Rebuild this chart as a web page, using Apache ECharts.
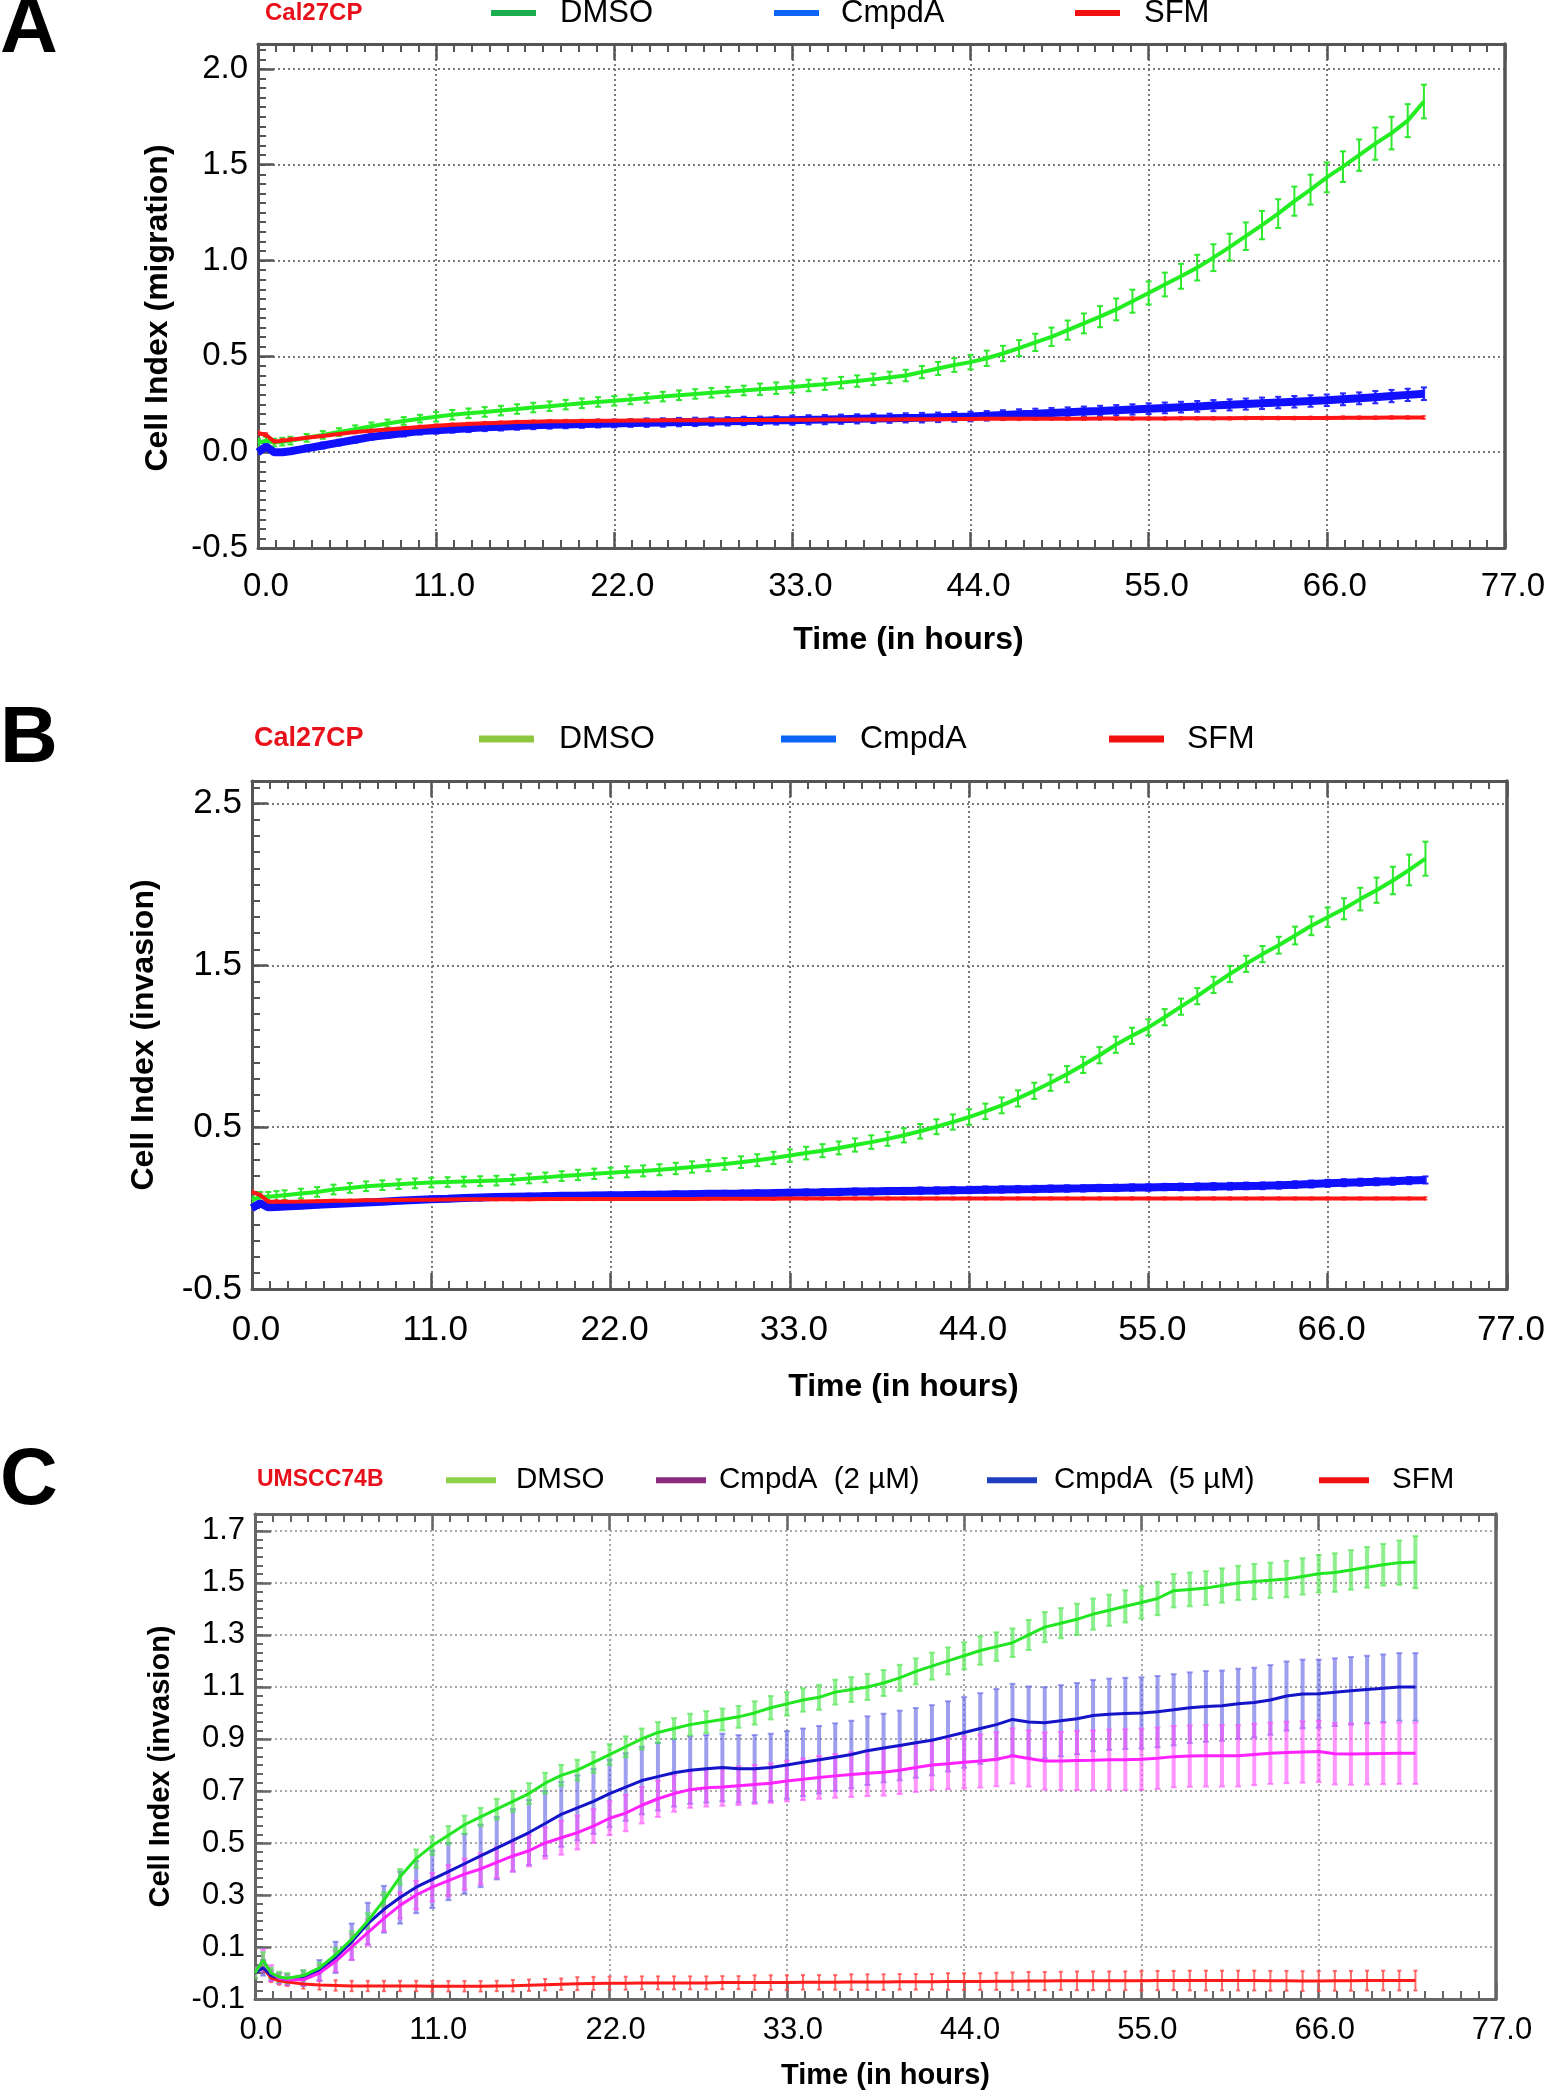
<!DOCTYPE html>
<html><head><meta charset="utf-8">
<script src="https://cdn.jsdelivr.net/npm/echarts@6/dist/echarts.min.js"></script>
<style>html,body{margin:0;padding:0;background:#fff}#chart{width:1548px;height:2100px}</style>
</head><body><div id="chart"></div>
<script>
// ---------------- DATA ----------------
const hours = [0,0.5,1,1.5,2,
 3,4,5,6,7,8,9,10,11,12,
 13,14,15,16,17,18,19,20,21,22,
 23,24,25,26,27,28,29,30,31,32,
 33,34,35,36,37,38,39,40,41,42,
 43,44,45,46,47,48,49,50,51,52,
 53,54,55,56,57,58,59,60,61,62,
 63,64,65,66,67,68,69,70,71,72];
const xTicks = [0,11,22,33,44,55,66,77];

// Panel A: Cal27CP migration
const aDmso = [0.05,0.06,0.05,0.055,0.06,
 0.075,0.09,0.105,0.12,0.135,0.15,0.163,0.175,0.185,0.195,
 0.203,0.21,0.217,0.225,0.233,0.24,0.248,0.255,0.262,0.268,
 0.275,0.283,0.29,0.297,0.304,0.31,0.316,0.322,0.328,0.334,
 0.34,0.348,0.355,0.363,0.371,0.38,0.39,0.40,0.418,0.437,
 0.455,0.47,0.49,0.515,0.543,0.573,0.602,0.637,0.672,0.707,
 0.745,0.788,0.831,0.875,0.918,0.963,1.015,1.07,1.127,1.185,
 1.245,1.31,1.37,1.434,1.49,1.55,1.61,1.665,1.73,1.83];
const aDmsoErr = [0.02,0.02,0.02,0.02,0.02,
 0.02,0.02,0.02,0.02,0.02,0.02,0.02,0.02,0.025,0.025,
 0.025,0.025,0.025,0.025,0.025,0.025,0.025,0.025,0.025,0.025,
 0.025,0.025,0.025,0.025,0.025,0.025,0.025,0.025,0.03,0.03,
 0.03,0.03,0.03,0.03,0.03,0.03,0.03,0.03,0.032,0.034,
 0.036,0.038,0.04,0.04,0.042,0.045,0.048,0.05,0.052,0.055,
 0.057,0.06,0.06,0.062,0.065,0.067,0.07,0.07,0.072,0.074,
 0.075,0.076,0.078,0.078,0.08,0.082,0.084,0.085,0.086,0.088];
const aCmpd = [0.00,0.03,0.00,0.00,0.005,
 0.02,0.035,0.05,0.065,0.08,0.09,0.10,0.11,0.115,0.12,
 0.125,0.13,0.133,0.137,0.14,0.143,0.145,0.147,0.149,0.15,
 0.152,0.154,0.155,0.157,0.158,0.16,0.161,0.163,0.164,0.166,
 0.167,0.169,0.17,0.172,0.174,0.176,0.177,0.179,0.18,0.182,
 0.184,0.186,0.19,0.194,0.198,0.201,0.205,0.208,0.212,0.215,
 0.219,0.223,0.227,0.231,0.235,0.239,0.243,0.247,0.251,0.255,
 0.259,0.263,0.267,0.271,0.276,0.281,0.287,0.293,0.299,0.305];
const aCmpdErr = [0.01,0.01,0.01,0.012,0.012,
 0.015,0.015,0.015,0.015,0.015,0.015,0.018,0.018,0.018,0.018,
 0.02,0.02,0.02,0.02,0.02,0.02,0.02,0.02,0.02,0.02,
 0.02,0.022,0.022,0.022,0.022,0.022,0.022,0.022,0.022,0.022,
 0.024,0.024,0.024,0.024,0.024,0.024,0.024,0.024,0.025,0.025,
 0.025,0.025,0.025,0.025,0.026,0.026,0.026,0.026,0.026,0.027,
 0.027,0.027,0.028,0.028,0.028,0.028,0.029,0.029,0.029,0.03,
 0.03,0.03,0.03,0.03,0.031,0.031,0.032,0.032,0.032,0.033];
const aSfm = [0.10,0.09,0.055,0.06,0.065,
 0.075,0.085,0.095,0.105,0.112,0.118,0.125,0.132,0.138,0.143,
 0.147,0.151,0.154,0.157,0.159,0.161,0.162,0.163,0.164,0.164,
 0.165,0.165,0.166,0.166,0.166,0.167,0.167,0.168,0.168,0.168,
 0.169,0.169,0.17,0.17,0.17,0.171,0.171,0.172,0.172,0.172,
 0.173,0.173,0.174,0.174,0.174,0.175,0.175,0.175,0.175,0.176,
 0.176,0.176,0.176,0.176,0.177,0.177,0.177,0.177,0.178,0.178,
 0.178,0.178,0.179,0.179,0.18,0.18,0.18,0.181,0.181,0.181];
const aSfmErr = [0.01,0.01,0.01,0.01,0.01,
 0.008,0.008,0.008,0.008,0.008,0.008,0.008,0.008,0.008,0.008,
 0.008,0.008,0.008,0.008,0.008,0.008,0.008,0.008,0.008,0.008,
 0.008,0.008,0.008,0.008,0.008,0.008,0.008,0.008,0.008,0.008,
 0.008,0.008,0.008,0.008,0.008,0.008,0.008,0.008,0.008,0.008,
 0.008,0.008,0.008,0.008,0.008,0.008,0.008,0.008,0.008,0.008,
 0.008,0.008,0.008,0.008,0.008,0.008,0.008,0.008,0.008,0.008,
 0.008,0.008,0.008,0.008,0.008,0.008,0.008,0.008,0.008,0.008];

// Panel B: Cal27CP invasion
const bDmso = [0.05,0.07,0.07,0.075,0.08,
 0.09,0.10,0.115,0.125,0.135,0.142,0.148,0.153,0.158,0.161,
 0.164,0.167,0.17,0.176,0.183,0.19,0.198,0.205,0.212,0.218,
 0.224,0.23,0.237,0.245,0.254,0.263,0.273,0.284,0.296,0.31,
 0.325,0.34,0.355,0.372,0.39,0.408,0.428,0.45,0.475,0.503,
 0.532,0.563,0.598,0.635,0.678,0.725,0.775,0.828,0.885,0.945,
 1.01,1.065,1.117,1.18,1.245,1.31,1.38,1.447,1.51,1.57,
 1.625,1.685,1.745,1.798,1.85,1.91,1.965,2.025,2.09,2.16];
const bDmsoErr = [0.02,0.03,0.03,0.03,0.03,
 0.03,0.03,0.03,0.03,0.03,0.03,0.03,0.03,0.03,0.03,
 0.03,0.03,0.03,0.03,0.03,0.03,0.03,0.032,0.032,0.032,
 0.034,0.034,0.034,0.035,0.035,0.035,0.036,0.036,0.037,0.038,
 0.038,0.039,0.04,0.04,0.041,0.042,0.043,0.044,0.045,0.046,
 0.047,0.048,0.048,0.049,0.05,0.05,0.05,0.05,0.05,0.05,
 0.05,0.05,0.05,0.05,0.05,0.05,0.05,0.05,0.05,0.05,
 0.052,0.055,0.058,0.06,0.065,0.07,0.078,0.085,0.095,0.105];
const bCmpd = [0.00,0.03,0.005,0.007,0.01,
 0.015,0.02,0.025,0.03,0.035,0.04,0.045,0.05,0.055,0.058,
 0.062,0.065,0.068,0.07,0.072,0.074,0.076,0.077,0.078,0.079,
 0.08,0.082,0.083,0.085,0.086,0.088,0.089,0.09,0.092,0.093,
 0.095,0.097,0.098,0.10,0.102,0.103,0.105,0.106,0.108,0.109,
 0.111,0.112,0.114,0.115,0.117,0.118,0.12,0.121,0.122,0.124,
 0.125,0.127,0.128,0.13,0.131,0.132,0.134,0.135,0.137,0.138,
 0.141,0.145,0.149,0.153,0.157,0.16,0.163,0.166,0.17,0.174];
const bCmpdErr = [0.01,0.01,0.01,0.012,0.012,
 0.015,0.015,0.015,0.015,0.015,0.015,0.015,0.015,0.016,0.016,
 0.016,0.016,0.016,0.016,0.017,0.017,0.017,0.017,0.017,0.017,
 0.018,0.018,0.018,0.018,0.018,0.018,0.018,0.018,0.018,0.018,
 0.019,0.019,0.019,0.019,0.019,0.019,0.019,0.019,0.02,0.02,
 0.02,0.02,0.02,0.02,0.02,0.02,0.02,0.02,0.02,0.02,
 0.02,0.02,0.02,0.02,0.021,0.021,0.021,0.021,0.021,0.021,
 0.021,0.021,0.022,0.022,0.022,0.022,0.022,0.022,0.022,0.022];
const bSfm = [0.10,0.08,0.04,0.04,0.04,
 0.041,0.043,0.045,0.046,0.048,0.049,0.05,0.051,0.052,0.053,
 0.054,0.054,0.055,0.055,0.055,0.056,0.056,0.056,0.056,0.056,
 0.057,0.057,0.057,0.057,0.057,0.058,0.058,0.058,0.058,0.058,
 0.059,0.059,0.059,0.059,0.06,0.06,0.06,0.06,0.06,0.06,
 0.06,0.06,0.06,0.06,0.06,0.06,0.06,0.06,0.06,0.06,
 0.06,0.06,0.06,0.06,0.06,0.06,0.06,0.06,0.06,0.06,
 0.06,0.06,0.06,0.06,0.06,0.06,0.06,0.06,0.06,0.06];
const bSfmErr = [0.01,0.01,0.01,0.01,0.01,
 0.008,0.008,0.008,0.008,0.008,0.008,0.008,0.008,0.008,0.008,
 0.008,0.008,0.008,0.008,0.008,0.008,0.008,0.008,0.008,0.008,
 0.008,0.008,0.008,0.008,0.008,0.008,0.008,0.008,0.008,0.008,
 0.008,0.008,0.008,0.008,0.008,0.008,0.008,0.008,0.008,0.008,
 0.008,0.008,0.008,0.008,0.008,0.008,0.008,0.008,0.008,0.008,
 0.008,0.008,0.008,0.008,0.008,0.008,0.008,0.008,0.008,0.008,
 0.008,0.008,0.008,0.008,0.008,0.008,0.008,0.008,0.008,0.008];

// Panel C: UMSCC74B invasion
const cDmso = [0.00,0.05,0.00,-0.015,-0.02,
 -0.01,0.02,0.07,0.13,0.20,0.28,0.37,0.44,0.49,0.53,
 0.57,0.60,0.63,0.66,0.69,0.73,0.76,0.78,0.81,0.84,
 0.87,0.90,0.925,0.94,0.955,0.965,0.975,0.985,1.00,1.02,
 1.035,1.05,1.06,1.08,1.09,1.10,1.115,1.135,1.16,1.18,
 1.20,1.22,1.24,1.255,1.27,1.30,1.33,1.345,1.36,1.38,
 1.395,1.41,1.425,1.44,1.47,1.475,1.48,1.49,1.50,1.505,
 1.51,1.515,1.525,1.535,1.54,1.55,1.56,1.57,1.578,1.58];
const cDmsoErr = [0.02,0.03,0.02,0.02,0.02,
 0.02,0.02,0.025,0.03,0.03,0.03,0.03,0.035,0.035,0.035,
 0.035,0.035,0.04,0.04,0.04,0.04,0.04,0.04,0.04,0.04,
 0.04,0.04,0.04,0.04,0.042,0.042,0.042,0.042,0.045,0.045,
 0.045,0.045,0.048,0.048,0.048,0.05,0.05,0.05,0.05,0.052,
 0.052,0.052,0.055,0.055,0.055,0.058,0.058,0.058,0.06,0.06,
 0.06,0.062,0.062,0.064,0.064,0.065,0.065,0.066,0.066,0.068,
 0.068,0.07,0.07,0.072,0.074,0.076,0.078,0.08,0.085,0.1];
const cCmpd2 = [0.00,0.05,0.00,-0.02,-0.026,
 -0.026,0.00,0.045,0.10,0.155,0.21,0.26,0.30,0.33,0.355,
 0.38,0.40,0.425,0.45,0.47,0.50,0.52,0.54,0.565,0.595,
 0.615,0.645,0.67,0.69,0.705,0.712,0.715,0.72,0.725,0.73,
 0.738,0.745,0.752,0.758,0.763,0.768,0.772,0.78,0.79,0.80,
 0.805,0.81,0.815,0.822,0.835,0.825,0.815,0.815,0.817,0.818,
 0.82,0.82,0.822,0.826,0.832,0.834,0.835,0.835,0.835,0.84,
 0.845,0.848,0.85,0.852,0.843,0.842,0.843,0.844,0.845,0.845];
const cCmpd2Err = [0.02,0.04,0.03,0.02,0.02,
 0.02,0.03,0.04,0.05,0.05,0.05,0.05,0.055,0.055,0.06,
 0.06,0.06,0.06,0.06,0.06,0.06,0.065,0.065,0.065,0.065,
 0.07,0.07,0.07,0.07,0.07,0.072,0.072,0.074,0.075,0.076,
 0.078,0.08,0.082,0.084,0.086,0.088,0.09,0.092,0.094,0.096,
 0.098,0.1,0.102,0.104,0.106,0.108,0.11,0.112,0.114,0.115,
 0.116,0.117,0.118,0.118,0.118,0.118,0.118,0.118,0.118,0.118,
 0.118,0.118,0.118,0.118,0.118,0.118,0.118,0.118,0.118,0.118];
const cCmpd5 = [0.00,0.02,-0.01,-0.02,-0.026,
 -0.02,0.01,0.06,0.12,0.19,0.245,0.29,0.33,0.36,0.39,
 0.42,0.45,0.48,0.51,0.54,0.575,0.61,0.635,0.66,0.69,
 0.715,0.74,0.755,0.77,0.78,0.785,0.79,0.785,0.785,0.79,
 0.80,0.81,0.82,0.83,0.84,0.855,0.865,0.875,0.885,0.895,
 0.91,0.925,0.94,0.955,0.975,0.965,0.962,0.97,0.978,0.99,
 0.995,0.998,1.00,1.005,1.012,1.02,1.025,1.028,1.035,1.04,
 1.05,1.065,1.073,1.074,1.08,1.085,1.09,1.095,1.10,1.10];
const cCmpd5Err = [0.02,0.03,0.02,0.02,0.02,
 0.03,0.04,0.06,0.07,0.08,0.09,0.1,0.1,0.11,0.11,
 0.115,0.12,0.12,0.12,0.125,0.125,0.125,0.125,0.125,0.13,
 0.13,0.13,0.13,0.13,0.13,0.13,0.13,0.13,0.13,0.13,
 0.13,0.13,0.13,0.13,0.13,0.132,0.132,0.134,0.134,0.135,
 0.135,0.136,0.136,0.137,0.137,0.137,0.137,0.137,0.137,0.137,
 0.137,0.137,0.137,0.137,0.137,0.136,0.136,0.135,0.135,0.134,
 0.134,0.133,0.132,0.131,0.13,0.13,0.13,0.13,0.13,0.13];
const cSfm = [0.00,0.02,-0.02,-0.03,-0.035,
 -0.042,-0.046,-0.048,-0.05,-0.05,-0.05,-0.05,-0.05,-0.051,-0.051,
 -0.051,-0.051,-0.05,-0.049,-0.047,-0.045,-0.043,-0.041,-0.04,-0.039,
 -0.039,-0.038,-0.038,-0.038,-0.038,-0.038,-0.037,-0.037,-0.037,-0.037,
 -0.037,-0.036,-0.036,-0.036,-0.035,-0.035,-0.035,-0.034,-0.034,-0.034,
 -0.033,-0.033,-0.033,-0.032,-0.032,-0.031,-0.031,-0.03,-0.03,-0.03,
 -0.03,-0.03,-0.03,-0.029,-0.029,-0.029,-0.029,-0.029,-0.029,-0.029,
 -0.03,-0.03,-0.031,-0.031,-0.03,-0.03,-0.029,-0.029,-0.029,-0.029];
const cSfmErr = [0.01,0.02,0.015,0.015,0.015,
 0.018,0.018,0.02,0.02,0.02,0.02,0.02,0.02,0.02,0.02,
 0.02,0.02,0.02,0.022,0.022,0.022,0.022,0.025,0.025,0.025,
 0.025,0.025,0.025,0.025,0.025,0.025,0.025,0.025,0.028,0.028,
 0.028,0.028,0.028,0.028,0.03,0.03,0.03,0.03,0.03,0.03,
 0.032,0.032,0.032,0.033,0.034,0.035,0.035,0.035,0.036,0.036,
 0.036,0.036,0.037,0.037,0.037,0.038,0.038,0.038,0.038,0.038,
 0.038,0.038,0.038,0.038,0.038,0.038,0.038,0.038,0.038,0.038];

const cellLines = ['Cal27CP','Cal27CP','UMSCC74B'];
const panelLetters = ['A','B','C'];
const yTitles = ['Cell Index (migration)','Cell Index (invasion)','Cell Index (invasion)'];
const xTitle = 'Time (in hours)';

// ---------------- STYLE / LAYOUT ----------------
const FONT = 'Arial, "Liberation Sans", Helvetica, sans-serif';
const panels = [
  { grid:{left:258, top:44, width:1253, height:504}, ymin:-0.5, ymax:2.13, yint:0.5, yminor:0.05,
    tickFont:33, titleFont:32, xNameGap:76, xNameShift:54, yNameGap:84, yNameShift:24, labelMargin:22, xShift:16, yMargin:10,
    gridColor:'#7a7a7a', frame:'#555', legendY:13, legendFont:31, iconW:45, iconH:6,
    letterY:30, cellX:265, cellY:13, cellFont:24,
    series:[
      {name:'DMSO', v:aDmso, e:aDmsoErr, color:'#22ee22', bar:'#2ee82e', lw:4, blw:2, cap:3, legendColor:'#1aae4c', lx:491, gap:24},
      {name:'CmpdA', v:aCmpd, e:aCmpdErr, color:'#1010ff', bar:'#2a2aff', lw:8, blw:2.5, cap:3, legendColor:'#0a64f5', lx:774, gap:22},
      {name:'SFM', v:aSfm, e:aSfmErr, color:'#ff1515', bar:'#ff3030', lw:4, blw:1.5, cap:2, legendColor:'#f01010', lx:1075, gap:24}
    ]},
  { grid:{left:252, top:781, width:1257, height:508}, ymin:-0.5, ymax:2.64, yint:1, yminor:0.1,
    tickFont:35, titleFont:32, xNameGap:82, xNameShift:48, yNameGap:92, yNameShift:0, labelMargin:24, xShift:8, yMargin:10,
    gridColor:'#7a7a7a', frame:'#555', legendY:739, legendFont:32, iconW:55, iconH:7,
    letterY:740, cellX:254, cellY:739, cellFont:27,
    series:[
      {name:'DMSO', v:bDmso, e:bDmsoErr, color:'#22ee22', bar:'#2ee82e', lw:4, blw:2, cap:3, legendColor:'#8dc63f', lx:479, gap:25},
      {name:'CmpdA', v:bCmpd, e:bCmpdErr, color:'#1010ff', bar:'#2a2aff', lw:8, blw:2.5, cap:3, legendColor:'#0a64f5', lx:781, gap:24},
      {name:'SFM', v:bSfm, e:bSfmErr, color:'#ff1515', bar:'#ff3030', lw:4, blw:1.5, cap:2, legendColor:'#f01010', lx:1109, gap:23}
    ]},
  { grid:{left:255, top:1514, width:1241, height:485}, ymin:-0.1, ymax:1.765, yint:0.2, yminor:0.2/6,
    tickFont:31, titleFont:29, xNameGap:62, xNameShift:20, yNameGap:80, yNameShift:20, labelMargin:16, xShift:12, yMargin:10,
    gridColor:'#a8a8a8', frame:'#666', legendY:1480, legendFont:29.5, iconW:50, iconH:6,
    letterY:1482, cellX:257, cellY:1480, cellFont:23,
    series:[
      {name:'SFM', v:cSfm, e:cSfmErr, color:'#ff1a1a', bar:'rgba(255,70,70,0.8)', lw:3, blw:2, cap:2, legendColor:'#f01010', lx:1319, gap:23},
      {name:'CmpdA  (5 µM)', v:cCmpd5, e:cCmpd5Err, color:'#1414c8', bar:'rgba(95,95,230,0.6)', lw:3, blw:4, cap:3, legendColor:'#1f3fbf', lx:987, gap:17},
      {name:'CmpdA  (2 µM)', v:cCmpd2, e:cCmpd2Err, color:'#ff22ff', bar:'rgba(255,80,255,0.6)', lw:3, blw:4, cap:3, legendColor:'#8b2a7f', lx:656, gap:13},
      {name:'DMSO', v:cDmso, e:cDmsoErr, color:'#22e622', bar:'rgba(80,230,80,0.65)', lw:3, blw:4, cap:3, legendColor:'#8dd04a', lx:446, gap:20}
    ]}
];

function fmt1(v){ return (Math.round(v*10)/10).toFixed(1); }

const option = {animation:false, backgroundColor:'#fff', textStyle:{fontFamily:FONT},
  grid:[], xAxis:[], yAxis:[], series:[], legend:[], graphic:[]};

panels.forEach((p, pi) => {
  option.grid.push(Object.assign({show:false}, p.grid));
  const frameLine = {show:true, onZero:false, lineStyle:{color:p.frame, width:3}};
  // bottom x axis (labels, grid)
  option.xAxis.push({type:'value', gridIndex:pi, position:'bottom', min:xTicks[0], max:xTicks[xTicks.length-1], interval:xTicks[1]-xTicks[0],
    axisLine:frameLine, axisTick:{show:true, inside:true, length:16, lineStyle:{color:p.frame, width:2.5}},
    minorTick:{show:true, splitNumber:10, length:8, lineStyle:{color:p.frame, width:2}},
    splitLine:{show:true, lineStyle:{color:p.gridColor, width:2, type:[2,3]}},
    axisLabel:{show:true, formatter:fmt1, fontSize:p.tickFont, color:'#000', fontFamily:FONT, margin:p.labelMargin, padding:[0,0,0,p.xShift]},
    name:xTitle, nameLocation:'middle', nameGap:p.xNameGap,
    nameTextStyle:{fontSize:p.titleFont, fontWeight:'bold', color:'#000', fontFamily:FONT, padding:[0,0,0,p.xNameShift]}});
  // top x axis (frame + ticks)
  option.xAxis.push({type:'value', gridIndex:pi, position:'top', min:xTicks[0], max:xTicks[xTicks.length-1], interval:xTicks[1]-xTicks[0],
    axisLine:frameLine, axisTick:{show:true, inside:true, length:16, lineStyle:{color:p.frame, width:2.5}},
    minorTick:{show:true, splitNumber:10, length:8, lineStyle:{color:p.frame, width:2}},
    splitLine:{show:false}, axisLabel:{show:false}});
  // main y axis
  option.yAxis.push({type:'value', gridIndex:pi, position:'left', min:p.ymin, max:p.ymax, interval:p.yint,
    axisLine:frameLine, axisTick:{show:true, inside:true, length:16, lineStyle:{color:p.frame, width:2.5}},
    splitLine:{show:true, lineStyle:{color:p.gridColor, width:2, type:[2,3]}},
    axisLabel:{show:true, formatter:fmt1, fontSize:p.tickFont, color:'#000', fontFamily:FONT, margin:p.yMargin, showMaxLabel:false},
    name:yTitles[pi], nameLocation:'middle', nameGap:p.yNameGap,
    nameTextStyle:{fontSize:p.titleFont, fontWeight:'bold', color:'#000', fontFamily:FONT, padding:[0,p.yNameShift,0,0]}});
  // minor y ticks
  option.yAxis.push({type:'value', gridIndex:pi, position:'left', min:p.ymin, max:p.ymax, interval:p.yminor,
    axisLine:{show:false}, axisTick:{show:true, inside:true, length:8, lineStyle:{color:p.frame, width:2}},
    splitLine:{show:false}, axisLabel:{show:false}});
  // right frame
  option.yAxis.push({type:'value', gridIndex:pi, position:'right', min:p.ymin, max:p.ymax,
    axisLine:{show:true, onZero:false, lineStyle:{color:p.frame, width:3.5}}, axisTick:{show:false},
    splitLine:{show:false}, axisLabel:{show:false}});

  const xi = pi*2, yi = pi*3;
  // error bars first
  p.series.forEach((s, si) => {
    option.series.push({type:'custom', name:s.name, xAxisIndex:xi, yAxisIndex:yi, z:2+si,
      data: hours.map((t,i)=>[t, s.v[i], s.e[i]]), encode:{x:0, y:1}, clip:true,
      renderItem:(params, api) => {
        const t = api.value(0), m = api.value(1), e = api.value(2);
        const a = api.coord([t, m+e]), b = api.coord([t, m-e]);
        const st = {stroke:s.bar, lineWidth:s.blw};
        const sc = {stroke:s.bar, lineWidth:Math.min(s.blw, 2)};
        return {type:'group', children:[
          {type:'line', shape:{x1:a[0], y1:a[1], x2:b[0], y2:b[1]}, style:st},
          {type:'line', shape:{x1:a[0]-s.cap, y1:a[1], x2:a[0]+s.cap, y2:a[1]}, style:sc},
          {type:'line', shape:{x1:b[0]-s.cap, y1:b[1], x2:b[0]+s.cap, y2:b[1]}, style:sc}
        ]};
      }});
  });
  // mean lines
  p.series.forEach((s, si) => {
    option.series.push({type:'line', name:s.name, xAxisIndex:xi, yAxisIndex:yi, z:10+si,
      data: hours.map((t,i)=>[t, s.v[i]]), showSymbol:false, symbol:'circle',
      lineStyle:{color:s.color, width:s.lw}, itemStyle:{color:s.color}});
  });
  // legends (one per item)
  p.series.forEach(s => {
    option.legend.push({show:true, left:s.lx, top:p.legendY - p.legendFont/2, padding:0, selectedMode:false,
      icon:'rect', itemWidth:p.iconW, itemHeight:p.iconH,
      data:[{name:s.name, itemStyle:{color:s.legendColor}}],
      textStyle:{fontSize:p.legendFont, color:'#000', fontFamily:FONT, padding:[0,0,0,s.gap-5]}});
  });
  // letters and cell line labels
  option.graphic.push({type:'text', x:0, y:p.letterY, style:{text:panelLetters[pi], font:'bold 80px ' + FONT, fill:'#000',
    textAlign:'left', textVerticalAlign:'middle', align:'left', verticalAlign:'middle'}});
  option.graphic.push({type:'text', x:p.cellX, y:p.cellY, style:{text:cellLines[pi], font:'bold ' + p.cellFont + 'px ' + FONT, fill:'#e8101a',
    textAlign:'left', textVerticalAlign:'middle', align:'left', verticalAlign:'middle'}});
});

const chart = echarts.init(document.getElementById('chart'), null, {renderer:'canvas'});
chart.setOption(option);
</script>
</body></html>
